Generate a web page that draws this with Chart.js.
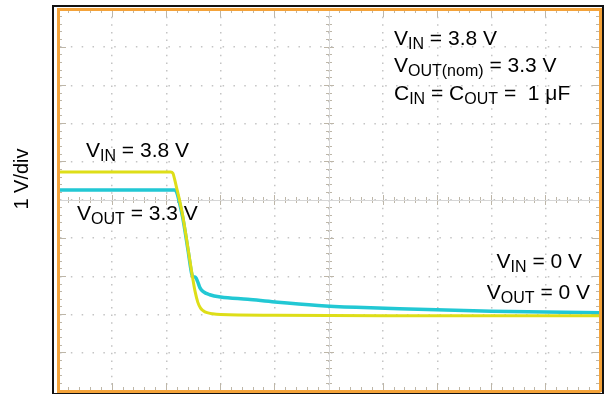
<!DOCTYPE html>
<html><head><meta charset="utf-8">
<script src="https://cdn.jsdelivr.net/npm/chart.js@4.4.1/dist/chart.umd.min.js"></script>
<style>
html,body{margin:0;padding:0;background:#fff;}
#wrap{position:relative;width:606px;height:394px;overflow:hidden;background:#fff;}
#frame{position:absolute;left:52px;top:5px;width:548px;height:386px;border:2px solid #111;}
canvas{position:absolute;left:0;top:0;}
.lbl{position:absolute;font-family:"Liberation Sans",Arial,Helvetica,sans-serif;font-size:21px;line-height:21px;color:#000;white-space:nowrap;}
.lbl sub{font-size:16px;vertical-align:baseline;position:relative;top:4px;line-height:0;}
#ytitle{position:absolute;left:21px;top:179px;font-family:"Liberation Sans",Arial,Helvetica,sans-serif;font-size:20px;line-height:20px;white-space:nowrap;transform:translate(-50%,-50%) rotate(-90deg);}
</style>
</head><body>
<div id="wrap">
  <div id="frame"></div>
  <canvas id="c" width="606" height="394"></canvas>
  <div id="ytitle">1 V/div</div>
  <div class="lbl" style="left:394px;top:27px">V<sub>IN</sub> = 3.8 V</div>
  <div class="lbl" style="left:394px;top:54px">V<sub>OUT(nom)</sub> = 3.3 V</div>
  <div class="lbl" style="left:394px;top:82px">C<sub>IN</sub> = C<sub>OUT</sub> = &nbsp;1 μF</div>
  <div class="lbl" style="left:86px;top:139px">V<sub>IN</sub> = 3.8 V</div>
  <div class="lbl" style="left:77px;top:202px">V<sub>OUT</sub> = 3.3 V</div>
  <div class="lbl" style="right:24px;top:250px">V<sub>IN</sub> = 0 V</div>
  <div class="lbl" style="right:16px;top:281px">V<sub>OUT</sub> = 0 V</div>
</div>
<script>
// Time axis in divisions, voltage axis in volts (1 V/div)
const timeRange = [0, 10];
const voltRange = [-2, 8];

// V_IN trace (yellow)
const vinTime  = [0, 2.08, 2.12, 2.15, 2.2, 2.25, 2.3, 2.4, 2.48, 2.53, 2.58, 2.63, 2.68, 2.75, 2.85, 3.0, 4.0, 6.0, 8.0, 10];
const vinVolts = [3.73, 3.73, 3.70, 3.55, 3.25, 2.95, 2.6, 1.72, 1.0, 0.6, 0.32, 0.17, 0.1, 0.05, 0.02, 0.0, -0.02, -0.03, -0.03, -0.03];

// V_OUT trace (cyan)
const voutTime  = [0, 2.16, 2.19, 2.23, 2.3, 2.4, 2.47, 2.5, 2.54, 2.58, 2.62, 2.68, 2.8, 3.0, 3.5, 4.0, 4.8, 5.5, 6.3, 8.0, 10];
const voutVolts = [3.26, 3.26, 3.2, 3.0, 2.55, 1.68, 1.05, 0.99, 0.97, 0.85, 0.7, 0.6, 0.52, 0.46, 0.4, 0.33, 0.24, 0.19, 0.15, 0.09, 0.05];

const ORANGE = '#f4a33a';
const DOT = '#c4c4c4';
const TICK = '#bdb6a8';

function pts(t, v) { return t.map((x, i) => ({x: x, y: v[i]})); }

function hiddenAxis(pos, range) {
  return {type: 'linear', position: pos, min: range[0], max: range[1],
    ticks: {display: false}, grid: {display: false, drawTicks: false},
    border: {display: false}};
}
function gridAxis(pos, range, step, color, width, dash) {
  const a = hiddenAxis(pos, range);
  a.ticks = {display: false, stepSize: step, maxTicksLimit: 200};
  a.grid = {display: true, drawTicks: false, color: color, lineWidth: width};
  a.border = {display: false, dash: dash};
  return a;
}
function centerAxis(pos, range, value) {
  const a = gridAxis(pos, range, 1, '#d6d6d6', 1, []);
  a.afterBuildTicks = s => { s.ticks = [{value: value}]; };
  return a;
}

const xMain = gridAxis('bottom', timeRange, 1, DOT, 1.5, [1.5, 6.14]);
xMain.border = {display: true, color: ORANGE, width: 3, z: 1, dash: [1.5, 6.14]};
const yMain = gridAxis('left', voltRange, 1, DOT, 1.5, [1.5, 9.34]);
yMain.border = {display: true, color: ORANGE, width: 3, z: 1, dash: [1.5, 9.34]};
yMain.afterFit = s => { s.width = 58; };
const xTop = hiddenAxis('top', timeRange);
xTop.border = {display: true, color: ORANGE, width: 3, z: 1};
const yRight = hiddenAxis('right', voltRange);
yRight.border = {display: true, color: ORANGE, width: 3, z: 1};

new Chart(document.getElementById('c'), {
  type: 'line',
  data: {
    datasets: [
      {label: 'VIN', data: pts(vinTime, vinVolts), borderColor: 'rgb(222,222,24)', borderWidth: 3,
       pointRadius: 0, cubicInterpolationMode: 'monotone', xAxisID: 'x', yAxisID: 'y'},
      {label: 'VOUT', data: pts(voutTime, voutVolts), borderColor: 'rgb(34,200,212)', borderWidth: 3.5,
       pointRadius: 0, cubicInterpolationMode: 'monotone', xAxisID: 'x', yAxisID: 'y'}
    ]
  },
  options: {
    responsive: false,
    animation: false,
    devicePixelRatio: 1,
    layout: {padding: {top: 9, right: 6, bottom: 3, left: 0}},
    plugins: {legend: {display: false}, tooltip: {enabled: false}},
    scales: {
      x: xMain,
      y: yMain,
      xTop: xTop,
      yRight: yRight,
      xMinor: gridAxis('bottom', timeRange, 0.2, TICK, 1, [4, 184, 6, 184, 4, 1000]),
      yMinor: gridAxis('left', voltRange, 0.2, TICK, 1, [4, 264, 6, 264, 4, 1000]),
      xMajorTick: gridAxis('bottom', timeRange, 1, TICK, 1, [8, 178, 10, 178, 8, 1000]),
      yMajorTick: gridAxis('left', voltRange, 1, TICK, 1, [8, 258, 10, 258, 8, 1000]),
      xCenter: centerAxis('bottom', timeRange, 5),
      yCenter: centerAxis('left', voltRange, 3)
    }
  }
});
</script>
</body></html>
